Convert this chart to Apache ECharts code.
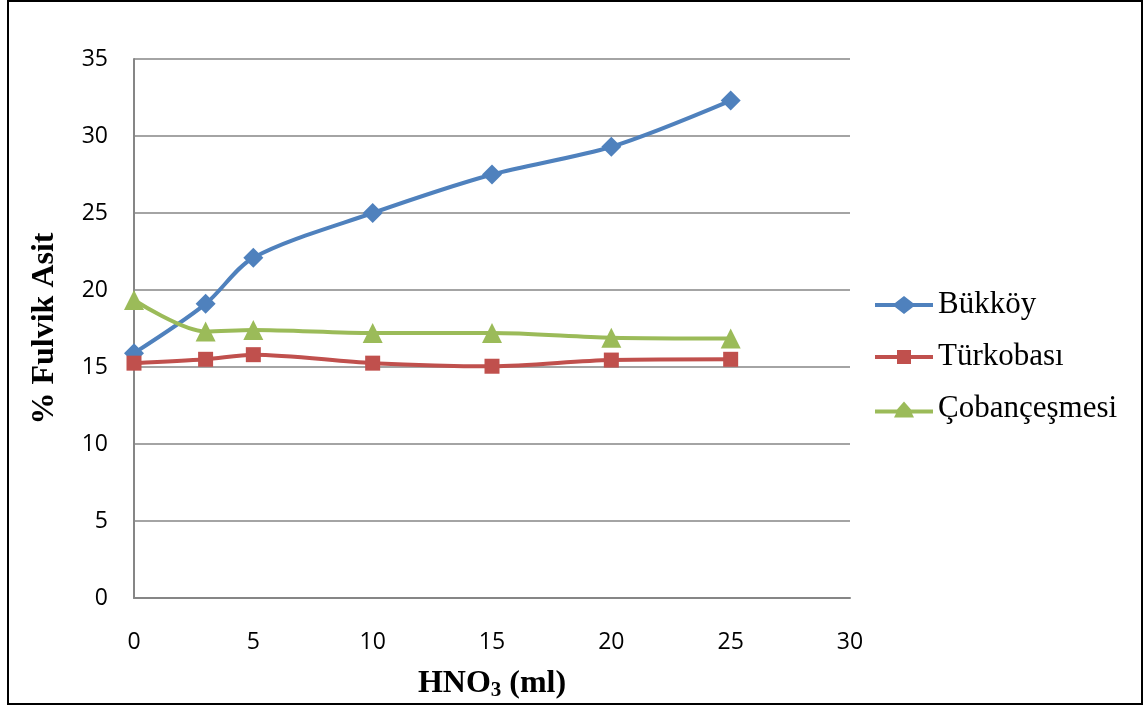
<!DOCTYPE html>
<html lang="tr">
  <head>
    <meta charset="UTF-8" />
    <title>% Fulvik Asit</title>
    <script src="https://cdn.jsdelivr.net/npm/echarts@6/dist/echarts.min.js"></script>
    <style>
      html, body { margin: 0; padding: 0; background: #fff; }
      #chart { width: 1148px; height: 708px; }
    </style>
  </head>
  <body>
    <div id="chart"></div>
    <script>
      // HNO3 miktarı (ml)
      var hno3 = [0, 3, 5, 10, 15, 20, 25];
      var bukkoy = [15.9, 19.1, 22.1, 25.0, 27.5, 29.3, 32.3];
      var turkobasi = [15.25, 15.5, 15.8, 15.25, 15.05, 15.45, 15.5];
      var cobancesmesi = [19.35, 17.3, 17.4, 17.2, 17.2, 16.9, 16.85];

      var seriesNames = ["Bükköy", "Türkobası", "Çobançeşmesi"];
      var seriesColors = ["#4F81BD", "#C0504D", "#9BBB59"];

      // legend icons: thick line with the marker in the middle (58 x 18 box)
      var legendIcons = [
        "path://M0,7L20,7L29,0L38,7L58,7L58,11L38,11L29,18L20,11L0,11Z",
        "path://M0,7L22,7L22,2L36,2L36,7L58,7L58,11L36,11L36,16L22,16L22,11L0,11Z",
        "path://M0,0L0,0M0,9L22,9L29,1L36,9L58,9L58,13L37,13L39,17L19,17L21,13L0,13Z"
      ];

      function pairs(ys) {
        return hno3.map(function (x, i) {
          return [x, ys[i]];
        });
      }

      var chart = echarts.init(document.getElementById("chart"));
      var option = {
        backgroundColor: "#fff",
        animation: false,
        graphic: [
          {
            type: "rect",
            shape: { x: 8, y: 1, width: 1134, height: 703 },
            style: { fill: "none", stroke: "#000", lineWidth: 2 }
          }
        ],
        grid: {
          left: 134,
          right: 298,
          top: 59,
          bottom: 110,
          outerBoundsMode: "none"
        },
        legend: {
          orient: "vertical",
          left: 870,
          top: 283,
          itemWidth: 58,
          itemHeight: 18,
          itemGap: 18,
          textStyle: {
            fontFamily: "Liberation Serif",
            fontSize: 31,
            color: "#000",
            lineHeight: 34
          },
          data: seriesNames.map(function (n, i) {
            return { name: n, icon: legendIcons[i] };
          })
        },
        xAxis: {
          type: "value",
          min: 0,
          max: 30,
          interval: 5,
          name: "HNO{sub|3} (ml)",
          nameLocation: "middle",
          nameGap: 68,
          nameTextStyle: {
            fontFamily: "Liberation Serif",
            fontWeight: "bold",
            fontSize: 32,
            color: "#000",
            rich: {
              sub: {
                fontFamily: "Liberation Serif",
                fontWeight: "bold",
                fontSize: 21,
                color: "#000",
                verticalAlign: "bottom",
                padding: [14, 0, 0, 0]
              }
            }
          },
          axisLine: { show: true, lineStyle: { color: "#868686", width: 2 } },
          axisTick: { show: false },
          splitLine: { show: false },
          axisLabel: {
            margin: 33,
            fontFamily: "Open Sans",
            fontSize: 23,
            color: "#000"
          }
        },
        yAxis: {
          type: "value",
          min: 0,
          max: 35,
          interval: 5,
          name: "% Fulvik Asit",
          nameLocation: "middle",
          nameGap: 73,
          nameTextStyle: {
            fontFamily: "Liberation Serif",
            fontWeight: "bold",
            fontSize: 32,
            color: "#000"
          },
          axisLine: { show: true, lineStyle: { color: "#868686", width: 2 } },
          axisTick: { show: false },
          splitLine: { show: true, lineStyle: { color: "#868686", width: 1.5 } },
          axisLabel: {
            margin: 26,
            fontFamily: "Open Sans",
            fontSize: 23,
            color: "#000"
          }
        },
        series: [
          {
            name: seriesNames[0],
            type: "line",
            smooth: 0.3,
            data: pairs(bukkoy),
            symbol: "diamond",
            symbolSize: 20,
            color: seriesColors[0],
            lineStyle: { width: 4 }
          },
          {
            name: seriesNames[1],
            type: "line",
            smooth: 0.3,
            data: pairs(turkobasi),
            symbol: "rect",
            symbolSize: 15,
            color: seriesColors[1],
            lineStyle: { width: 4 }
          },
          {
            name: seriesNames[2],
            type: "line",
            smooth: 0.3,
            data: pairs(cobancesmesi),
            symbol: "triangle",
            symbolSize: 20,
            color: seriesColors[2],
            lineStyle: { width: 4 }
          }
        ]
      };
      chart.setOption(option);
    </script>
  </body>
</html>
